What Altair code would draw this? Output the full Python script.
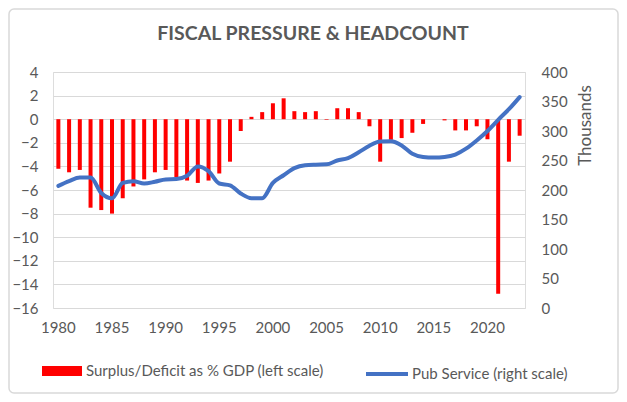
import altair as alt
import pandas as pd

years = list(range(1980, 2024))
deficit = [-4.2, -4.5, -4.3, -7.5, -7.7, -8.0, -6.7, -5.7, -5.1, -4.5,
           -4.3, -4.9, -5.2, -5.4, -5.2, -4.6, -3.6, -1.0, 0.2, 0.6,
           1.35, 1.77, 0.68, 0.6, 0.68, -0.05, 0.93, 0.93, 0.6, -0.6,
           -3.6, -1.75, -1.6, -1.15, -0.4, 0.0, -0.1, -0.95, -0.95, -0.6,
           -1.7, -14.8, -3.6, -1.4]
headcount = [207, 215, 221, 221, 195, 186, 212, 215, 211, 214,
             218, 218.5, 224, 240, 232, 211, 208, 194, 186, 186,
             212, 225, 237, 242, 243, 243.5, 250, 254, 264, 275,
             282, 282.5, 275.6, 261.5, 256, 255, 256, 260, 270, 284,
             300, 319, 337, 357.5]
left_ticks = list(range(-16, 5, 2))
right_ticks = list(range(0, 401, 50))
x_labels = list(range(1980, 2021, 5))
bar_name = "Surplus/Deficit as % GDP (left scale)"
line_name = "Pub Service (right scale)"
title_text = "FISCAL PRESSURE & HEADCOUNT"

df = pd.DataFrame({"year": years, "deficit": deficit, "headcount": headcount})
df["s1"] = bar_name
df["s2"] = line_name

FONT = "Lato"
TXT = "#595959"
GRID = "#D9D9D9"

x = alt.X("year:O", title=None,
          scale=alt.Scale(paddingInner=0, paddingOuter=0),
          axis=alt.Axis(values=x_labels, labelAngle=0, domain=False, ticks=False,
                        labelPadding=12, labelFont=FONT, labelFontSize=15,
                        labelColor=TXT, grid=False))

base = alt.Chart(df)

bars = base.mark_bar(size=4).encode(
    x=x,
    y=alt.Y("deficit:Q", title=None,
            scale=alt.Scale(domain=[-16, 4], nice=False),
            axis=alt.Axis(values=left_ticks, domain=False, ticks=False,
                          grid=True, gridColor=GRID, gridWidth=1,
                          labelPadding=15, labelFont=FONT, labelFontSize=15,
                          labelColor=TXT, orient="left")),
    fill=alt.Fill("s1:N", scale=alt.Scale(domain=[bar_name], range=["#FF0000"]),
                  legend=alt.Legend(title=None, orient="none", legendX=-11, legendY=279,
                                    symbolType="M-1,-0.25H1V0.25H-1Z", symbolSize=1600,
                                    symbolStrokeWidth=0, labelFont=FONT, labelLimit=500,
                                    labelFontSize=15, labelColor=TXT, labelOffset=4)),
)

line = base.mark_line(strokeWidth=4, interpolate="monotone", strokeCap="round").encode(
    x=x,
    y=alt.Y("headcount:Q", title="Thousands",
            scale=alt.Scale(domain=[0, 400], nice=False),
            axis=alt.Axis(values=right_ticks, domain=False, ticks=False, grid=False,
                          labelPadding=16, labelFont=FONT, labelFontSize=15,
                          labelColor=TXT, orient="right",
                          titleFont=FONT, titleFontSize=17, titleFontWeight="normal",
                          titleColor=TXT, titleAngle=270, titleX=60, titleY=53,
                          titleAlign="center", titleBaseline="middle")),
    stroke=alt.Stroke("s2:N", scale=alt.Scale(domain=[line_name], range=["#4472C4"]),
                      legend=alt.Legend(title=None, orient="none", legendX=311, legendY=279,
                                        symbolType="stroke", symbolSize=1764,
                                        symbolStrokeWidth=4, labelFont=FONT, labelLimit=500,
                                        labelFontSize=15, labelColor=TXT, labelOffset=2)),
)

deco = alt.Chart(alt.Data(values=[{"t": title_text}]))

frame = deco.mark_rect(
    fillOpacity=0, stroke=GRID, strokeWidth=1.5, cornerRadius=5
).encode(x=alt.value(-44), x2=alt.value(565), y=alt.value(-63), y2=alt.value(321))

title = deco.mark_text(
    font=FONT, fontSize=19.5, fontWeight="bold", color=TXT, align="center",
    baseline="alphabetic"
).encode(text="t:N", x=alt.value(260), y=alt.value(-32))

chart = alt.layer(frame, title, bars, line).resolve_scale(
    y="independent", fill="independent", stroke="independent"
).properties(
    width=472, height=236,
    autosize=alt.AutoSizeParams(type="none"),
    padding={"left": 45, "top": 64, "right": 94, "bottom": 86},
).configure_view(stroke=None).configure(background="white")

chart.save("out.html", embed_options={"renderer": "svg", "actions": False})
